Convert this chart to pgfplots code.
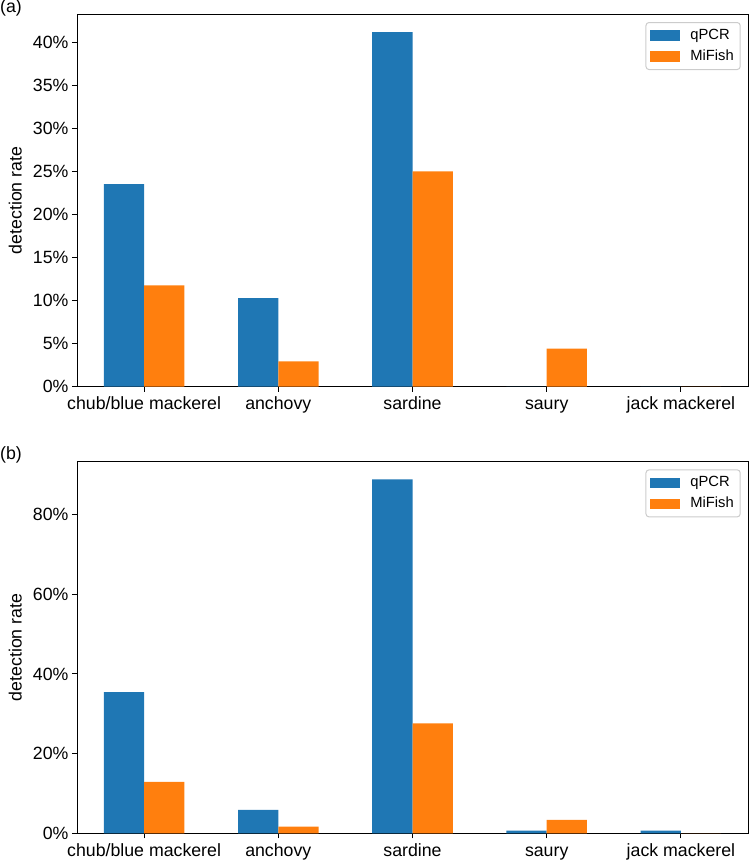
\documentclass[border=0pt]{standalone}
\usepackage{fontspec}
\setmainfont{Liberation Sans}
\usepackage{pgfplots}
\pgfplotsset{compat=1.18}
\definecolor{tabblue}{HTML}{1F77B4}
\definecolor{taborange}{HTML}{FF7F0E}
\definecolor{legedge}{HTML}{CCCCCC}
\pgfplotsset{
  mystyle/.style={
    scale only axis, width=671bp,
    xmin=-0.5, xmax=4.5, ymin=0,
    xtick={0,1,2,3,4},
    xticklabels={chub/blue mackerel, anchovy, sardine, saury, jack mackerel},
    tick align=outside, tick pos=left,
    major tick length=5bp,
    tick style={black, line width=1bp},
    axis line style={black, line width=1bp},
    tick label style={font=\fontsize{17.8}{21}\selectfont},
    xticklabel style={anchor=base, yshift=-18bp},
    yticklabel style={anchor=east},
    ylabel={detection rate},
    every axis y label/.style={at={(axis description cs:-0.0827,0.5)}, rotate=90, anchor=base, font=\fontsize{17.8}{21}\selectfont},
    legend cell align=left,
    legend style={at={(1,1)}, anchor=north east, xshift=-7.3bp, yshift=-7.7bp,
      draw=legedge, rounded corners=3bp, line width=1bp,
      font=\fontsize{14.8}{17}\selectfont,
      inner xsep=4.4bp, inner ysep=3.5bp, row sep=2bp,
      nodes={inner sep=2bp, text height=11bp, text depth=4bp}},
    legend image code/.code={\fill[##1, sharp corners] (0bp,-5.25bp) rectangle (30bp,5.25bp); \path (38bp,0bp);},
  },
  qbar/.style={ybar, bar width=0.3, bar shift=-0.15, fill=tabblue, draw=none},
  mbar/.style={ybar, bar width=0.3, bar shift=0.15, fill=taborange, draw=none},
}
\begin{document}
\begin{tikzpicture}
\path[use as bounding box] (0bp,0bp) rectangle (750bp,-861bp);
\node[anchor=base west, inner sep=0, font=\fontsize{17.8}{21}\selectfont] at (0bp,-12.5bp) {(a)};
\node[anchor=base west, inner sep=0, font=\fontsize{17.8}{21}\selectfont] at (0bp,-459.6bp) {(b)};
\begin{axis}[mystyle, at={(77bp,-386.67bp)}, anchor=south west, height=372.34bp,
  ymax=43.24, ytick={0,5,10,15,20,25,30,35,40},
  yticklabels={0\%,5\%,10\%,15\%,20\%,25\%,30\%,35\%,40\%}]
\addplot[qbar] coordinates {(0,23.53) (1,10.29) (2,41.18) (3,0) (4,0)};
\addlegendentry{qPCR}
\addplot[mbar] coordinates {(0,11.76) (1,2.94) (2,25.0) (3,4.41) (4,0)};
\addlegendentry{MiFish}
\end{axis}
\begin{axis}[mystyle, at={(77bp,-833.33bp)}, anchor=south west, height=371.66bp,
  ymax=93.24, ytick={0,20,40,60,80},
  yticklabels={0\%,20\%,40\%,60\%,80\%}]
\addplot[qbar] coordinates {(0,35.4) (1,5.9) (2,88.8) (3,0.68) (4,0.68)};
\addlegendentry{qPCR}
\addplot[mbar] coordinates {(0,12.9) (1,1.7) (2,27.6) (3,3.4) (4,0)};
\addlegendentry{MiFish}
\end{axis}
\end{tikzpicture}
\end{document}
